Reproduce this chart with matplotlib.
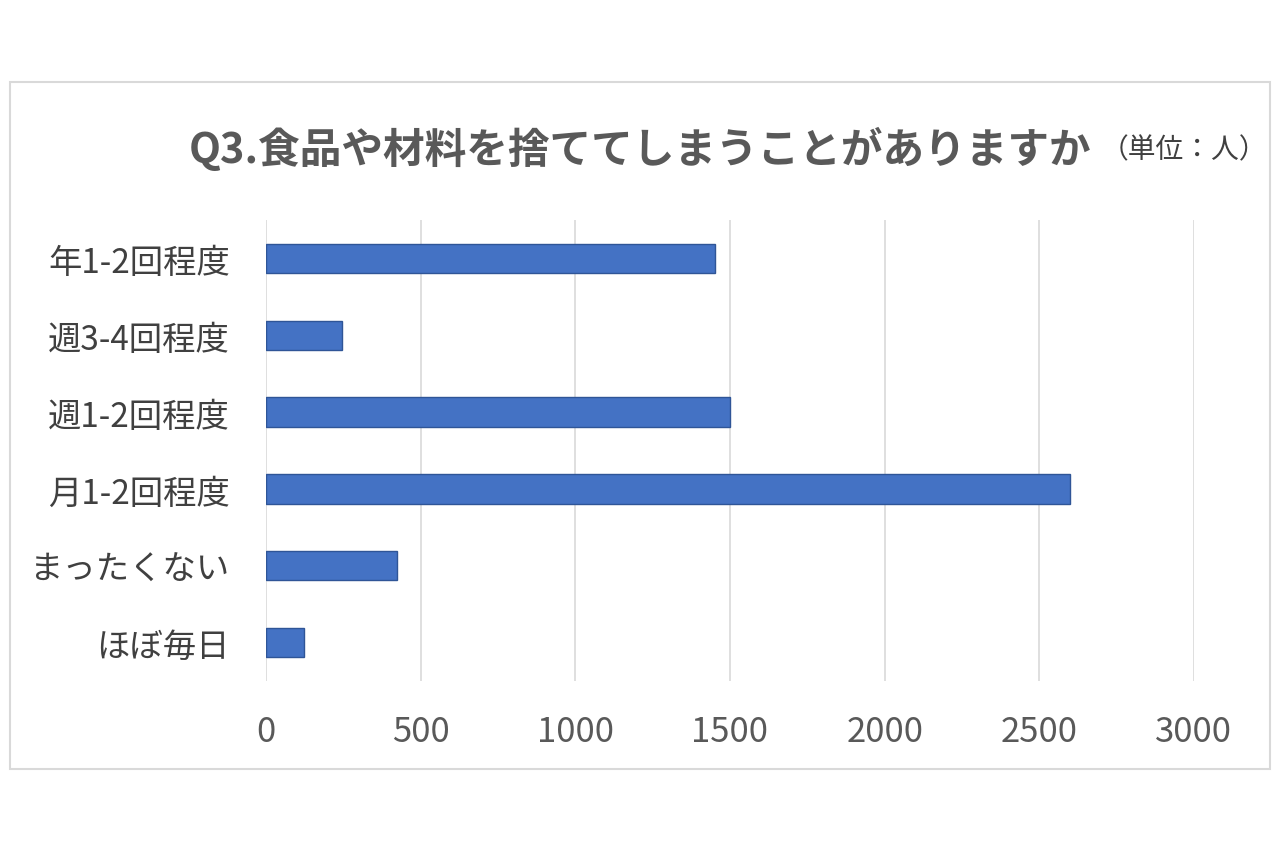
import matplotlib.pyplot as plt
from matplotlib.patches import Rectangle

plt.rcParams['font.family'] = ['Noto Sans CJK JP', 'DejaVu Sans']

# Datos (de arriba hacia abajo)
categorias = ["年1-2回程度", "週3-4回程度", "週1-2回程度", "月1-2回程度", "まったくない", "ほぼ毎日"]
valores = [1450, 247, 1500, 2600, 425, 124]
ticks_x = [0, 500, 1000, 1500, 2000, 2500, 3000]

titulo = "Q3.食品や材料を捨ててしまうことがありますか"
unidad = "（単位：人）"

fig = plt.figure(figsize=(12.8, 8.54), dpi=100)
ax = fig.add_axes([0.2078, 0.2014, 0.7250, 0.5398])

# Borde exterior gris claro
fig.patches.append(Rectangle((10 / 1280, 1 - 770 / 854), 1260 / 1280, 687 / 854,
                             transform=fig.transFigure, fill=False,
                             edgecolor="#d9d9d9", linewidth=1.5))

pos = list(range(len(categorias)))
ax.barh(pos, valores, height=0.38, color="#4472C4", edgecolor="#2F5597", linewidth=1)
ax.set_ylim(len(categorias) - 0.5, -0.5)
ax.set_yticks(pos)
ax.set_yticklabels(categorias, fontsize=24, color="#404040")

ax.set_xlim(0, 3000)
ax.set_xticks(ticks_x)
ax.set_xticklabels([str(t) for t in ticks_x], fontsize=25, color="#595959")
ax.grid(axis="x", color="#d9d9d9", linewidth=1.2)
ax.set_axisbelow(True)
for s in ax.spines.values():
    s.set_visible(False)
ax.tick_params(axis="both", length=0)
ax.tick_params(axis="x", pad=24)
ax.tick_params(axis="y", pad=26)

fig.text(640 / 1280, 1 - 150 / 854, titulo, fontsize=30, fontweight="bold",
         color="#595959", ha="center", va="center")
fig.text(1267 / 1280, 1 - 150 / 854, unidad, fontsize=20, color="#404040",
         ha="right", va="center")

fig.savefig("out.png", dpi=100, facecolor="white")
